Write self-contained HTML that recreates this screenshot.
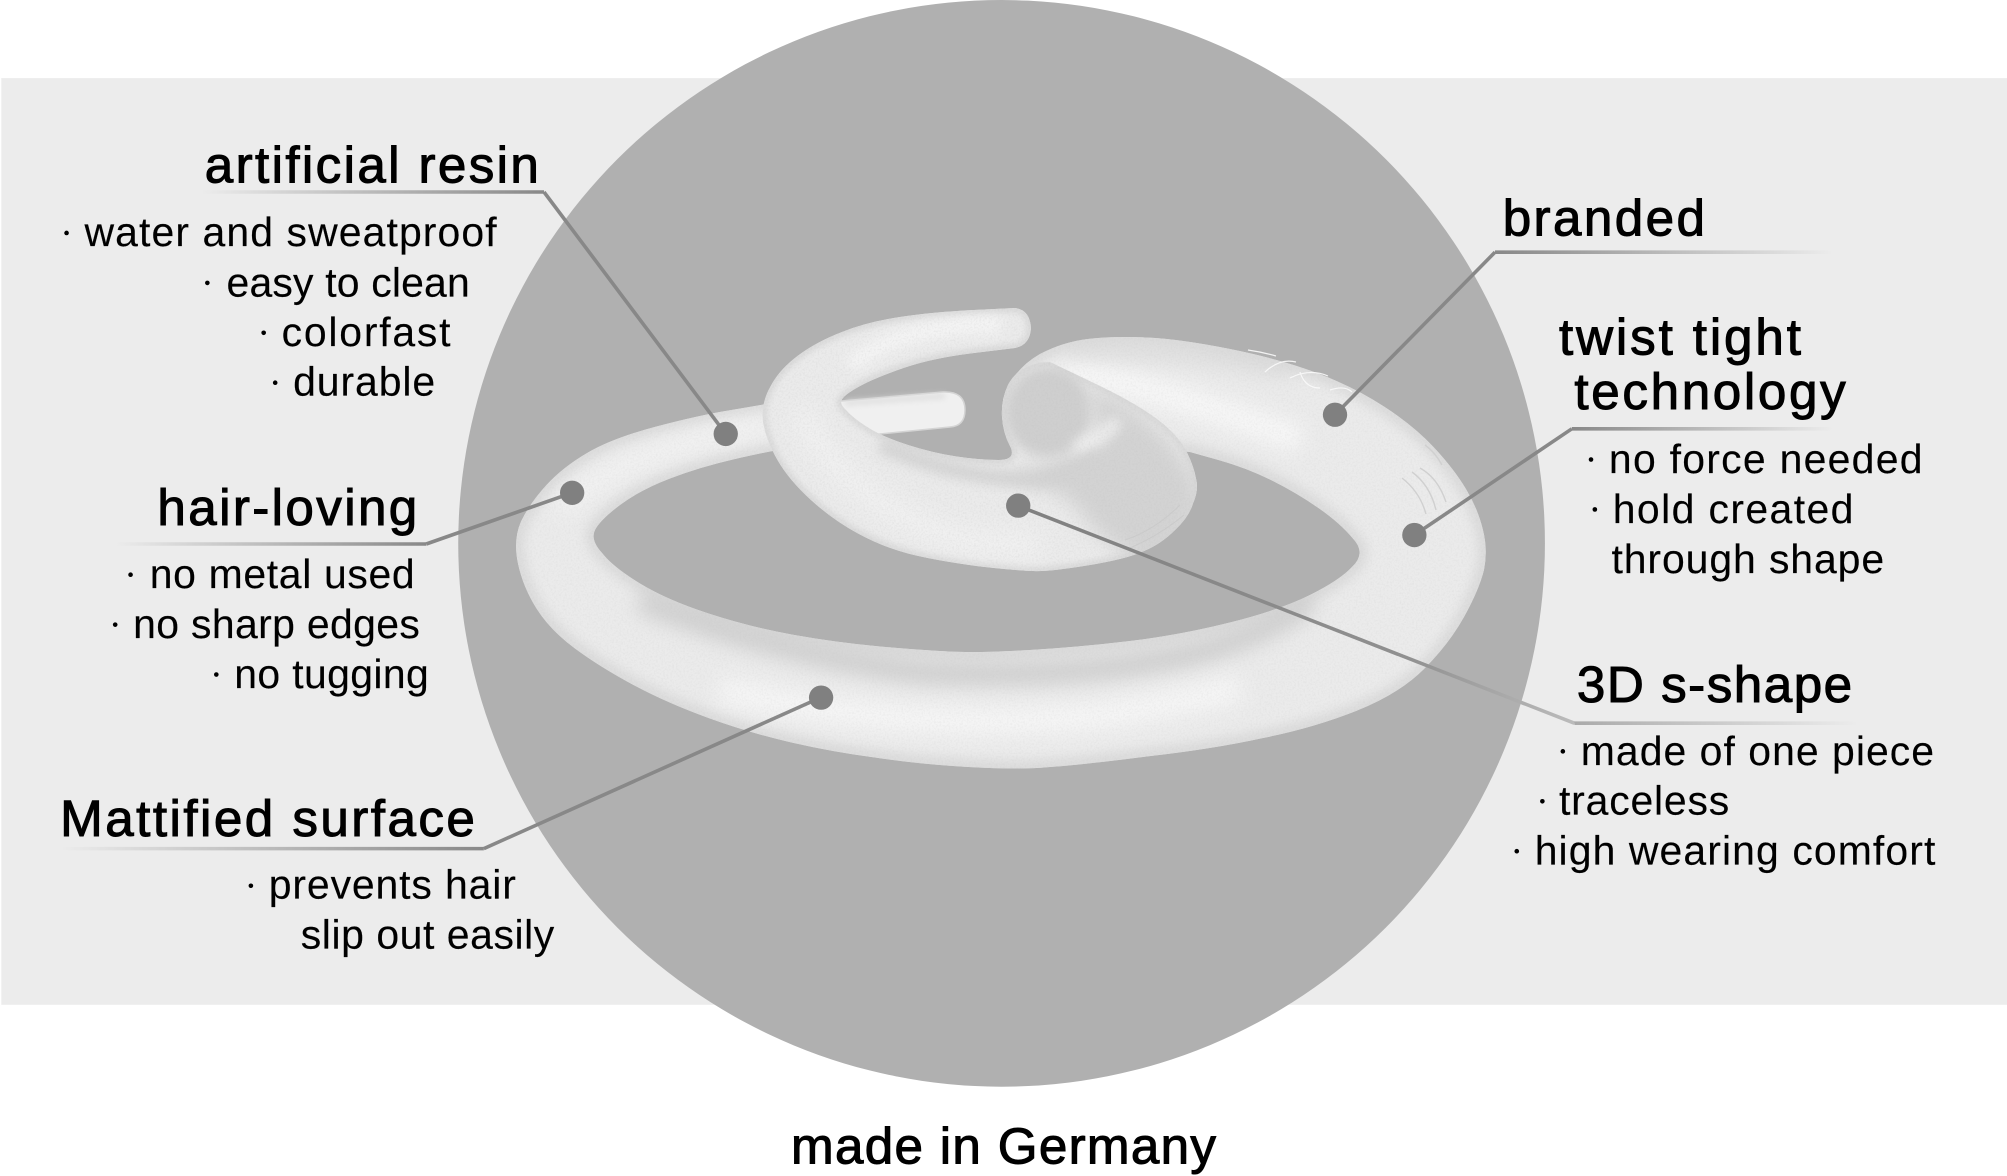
<!DOCTYPE html>
<html><head><meta charset="utf-8">
<style>
html,body{margin:0;padding:0;background:#fff}
svg{display:block}
text{font-family:"Liberation Sans",sans-serif;fill:#000}
.h{font-size:40px;stroke:#000;stroke-width:.8px}
.b{font-size:32px;stroke:#000;stroke-width:.1px}
</style></head><body>
<svg xmlns="http://www.w3.org/2000/svg" width="2007" height="1176" viewBox="0 0 1568 918.75">
<defs>
<path id="ringP" d="M790,400 L731.5,410 Q700,415 656.5,426.5 Q613,438 588,452.5 Q563,467 546.5,485 Q530,503 521,521.5 Q513,540 518,563.5 Q523,587 536.5,608.5 Q550,630 575,648.5 Q600,667 633.5,685 Q667,703 708.5,718 Q750,733 791.5,742.5 Q833,752 875,757.5 Q917,764 968.5,767 Q1020,770 1050,767 Q1080,765 1146.5,756.5 Q1213,749 1263,738 Q1313,728 1356,711 Q1399,694 1424,669 Q1449,644 1464,617 Q1479,590 1484,570 Q1488,550 1483,530 Q1478,509 1466,489 Q1454,469 1434,447.5 Q1414,426 1384,406.5 Q1354,387 1317,373 Q1280,359 1230,349 Q1180,339 1146.5,337.5 Q1113,336 1088,339 Q1063,342 1040,354 Q1012,370 1003,400 L1080,440 L1190,452 L1218.5,460 Q1247,468 1272,480.5 Q1297,493 1318.5,508 Q1340,523 1352.5,538 Q1367,553 1352,567 Q1340,580 1310,595 Q1280,610 1230,622.5 Q1180,635 1130,641 Q1080,647 1030,650 Q980,653 948.5,651.5 Q917,650 875,646 Q833,642 791.5,634.5 Q750,627 708.5,613.5 Q667,600 640,583.5 Q613,567 602.5,553.5 Q590,540 595,530 Q600,520 620,505 Q640,490 670,478.5 Q700,467 735,459 Q770,451 790,448 Z"/>
<path id="swP" d="M1015,308 L974,310 Q933,312 900,317 Q867,322 842,332 Q816,342 797.5,356 Q779,370 770.5,386.5 Q761,403 763,421.5 Q766,440 777.5,460 Q789,480 811,500 Q833,520 858,533.5 Q883,547 908,553.5 Q933,560 976.5,566 Q1020,571 1033.5,571 Q1047,572 1087,565.5 Q1127,559 1144,551 Q1161,544 1175,530 Q1189,517 1193,503.5 Q1199,490 1196,478.5 Q1194,467 1187.5,453.5 Q1181,440 1170,430 Q1160,420 1141.5,408.5 Q1123,397 1098,385 Q1073,373 1050,362 Q1020,362 1008,385 Q1001,400 1002,416.5 Q1003,433 1010,446 Q1017,460 998.5,460 Q980,460 956.5,456.5 Q933,453 908,445 Q883,437 868,427.5 Q853,418 846.5,410.5 Q838,403 843,398 Q847,393 862,385 Q877,377 905,367.5 Q933,358 974,353 L1015,348 Q1030,345 1031,328 Q1030,310 1015,308 Z"/>
<clipPath id="cr"><use href="#ringP"/></clipPath>
<clipPath id="cs"><use href="#swP"/></clipPath>
<filter id="b3" filterUnits="userSpaceOnUse" x="0" y="0" width="2007" height="1176"><feGaussianBlur stdDeviation="3"/></filter>
<filter id="b6" filterUnits="userSpaceOnUse" x="0" y="0" width="2007" height="1176"><feGaussianBlur stdDeviation="6"/></filter>
<filter id="b10" filterUnits="userSpaceOnUse" x="0" y="0" width="2007" height="1176"><feGaussianBlur stdDeviation="10"/></filter>
<filter id="noise" filterUnits="userSpaceOnUse" x="0" y="0" width="2007" height="1176"><feTurbulence type="fractalNoise" baseFrequency=".55" numOctaves="2" seed="4"/><feColorMatrix type="matrix" values="0 0 0 0 .5  0 0 0 0 .5  0 0 0 0 .5  1.6 0 0 0 -.7"/></filter>
<linearGradient id="g1" gradientUnits="userSpaceOnUse" x1="157" y1="0" x2="425" y2="0"><stop offset="0" stop-color="#888" stop-opacity="0"/><stop offset="1" stop-color="#888"/></linearGradient>
<linearGradient id="g2" gradientUnits="userSpaceOnUse" x1="1168" y1="0" x2="1432" y2="0"><stop offset="0" stop-color="#888"/><stop offset="1" stop-color="#888" stop-opacity="0"/></linearGradient>
<linearGradient id="g3" gradientUnits="userSpaceOnUse" x1="1228" y1="0" x2="1432" y2="0"><stop offset="0" stop-color="#888"/><stop offset="1" stop-color="#888" stop-opacity="0"/></linearGradient>
<linearGradient id="g4" gradientUnits="userSpaceOnUse" x1="1230" y1="0" x2="1452" y2="0"><stop offset="0" stop-color="#aaa"/><stop offset="1" stop-color="#aaa" stop-opacity="0"/></linearGradient>
<linearGradient id="g5" gradientUnits="userSpaceOnUse" x1="90" y1="0" x2="333" y2="0"><stop offset="0" stop-color="#888" stop-opacity="0"/><stop offset="1" stop-color="#888"/></linearGradient>
<linearGradient id="g6" gradientUnits="userSpaceOnUse" x1="47" y1="0" x2="378" y2="0"><stop offset="0" stop-color="#888" stop-opacity="0"/><stop offset="1" stop-color="#888"/></linearGradient>
<linearGradient id="g7" gradientUnits="userSpaceOnUse" x1="795" y1="395" x2="1230" y2="565"><stop offset="0" stop-color="#808080"/><stop offset=".7" stop-color="#909090"/><stop offset="1" stop-color="#bbb"/></linearGradient>
</defs>

<rect width="1568" height="918.75" fill="#fff"/>
<rect x="1" y="61" width="1567" height="724" fill="#ececec"/>
<circle cx="782.5" cy="424.5" r="424.5" fill="#b0b0b0"/>

<g transform="scale(.78125)">
<!-- small tail behind swirl -->
<path d="M830,402 L943,392 Q965,391 965,410 Q965,426 950,427 L870,435 Z" fill="#f0f0f0" stroke="#d4d4d4" stroke-width="1.5"/>
<path d="M845,403 L945,396" fill="none" stroke="#dedede" stroke-width="5" filter="url(#b3)"/>

<!-- main ring -->
<use href="#ringP" fill="#ebebeb"/>
<g clip-path="url(#cr)">
<use href="#ringP" fill="none" stroke="#d8d8d8" stroke-width="14" filter="url(#b6)"/>
<path d="M640,600 Q767,652 920,672 Q1080,680 1200,652 Q1270,632 1310,600" fill="none" stroke="#cdcdcd" stroke-width="22" filter="url(#b10)"/>
<path d="M720,690 Q820,712 900,718 Q1000,726 1100,716 Q1180,704 1240,688" fill="none" stroke="#f6f6f6" stroke-width="26" filter="url(#b10)"/>
<path d="M1060,368 Q1180,395 1300,440" fill="none" stroke="#f8f8f8" stroke-width="26" filter="url(#b10)"/>
<path d="M1060,350 Q1180,345 1290,372" fill="none" stroke="#d9d9d9" stroke-width="14" filter="url(#b10)"/>
<path d="M560,510 Q620,450 770,425" fill="none" stroke="#f3f3f3" stroke-width="18" filter="url(#b10)"/>
<rect x="500" y="320" width="1000" height="460" filter="url(#noise)" opacity=".22"/>
</g>
<!-- logo marks -->
<g fill="none" stroke="#fafafa" stroke-width="1.2" opacity=".9">
<path d="M1248,350 Q1262,352 1276,356 M1265,372 Q1280,358 1296,362 M1290,378 Q1310,368 1328,376 M1300,372 Q1305,388 1320,388 M1330,390 Q1345,385 1352,392"/>
</g>
<g fill="none" stroke="#d0d0d0" stroke-width="1.4">
<path d="M1420,468 Q1438,478 1446,502 M1412,472 Q1430,485 1436,510 M1402,478 Q1420,492 1426,514 M1425,445 Q1435,452 1442,465"/>
</g>

<!-- swirl -->
<use href="#swP" fill="#ebebeb"/>
<g clip-path="url(#cs)">
<use href="#swP" fill="none" stroke="#dadada" stroke-width="9" filter="url(#b3)"/>
<ellipse cx="1048" cy="412" rx="44" ry="46" fill="#cfcfcf" filter="url(#b6)"/>
<path d="M1000,472 Q1060,468 1100,440 L1085,385 L1120,400 Q1180,440 1200,490 Q1200,530 1150,565 Q1100,545 1075,505 Q1040,480 1000,472 Z" fill="#d3d3d3" filter="url(#b10)"/>
<path d="M1075,447 Q1100,442 1118,420" fill="none" stroke="#f0f0f0" stroke-width="12" filter="url(#b6)"/>
<path d="M880,445 Q960,480 1040,480 Q1075,472 1100,455" fill="none" stroke="#d2d2d2" stroke-width="14" filter="url(#b6)"/>
<path d="M1000,325 Q900,325 850,365" fill="none" stroke="#f5f5f5" stroke-width="16" filter="url(#b6)"/>
<path d="M800,410 Q840,500 960,540 Q1010,545 1040,545" fill="none" stroke="#f1f1f1" stroke-width="24" filter="url(#b10)"/>
<rect x="750" y="300" width="460" height="280" filter="url(#noise)" opacity=".3"/>
</g>
<g fill="none" stroke="#c8c8c8" stroke-width="1" opacity=".8"><path d="M1125,540 Q1155,530 1180,505 M1130,548 Q1160,535 1184,515"/></g>
</g>

<!-- connectors -->
<g fill="none" stroke-width="2.8">
<path d="M157,150 H425" stroke="url(#g1)"/>
<path d="M425,150 L567,339" stroke="#888"/>
<path d="M1168,197 H1432" stroke="url(#g2)"/>
<path d="M1168,197 L1043,324" stroke="#888"/>
<path d="M1228,335 H1432" stroke="url(#g3)"/>
<path d="M1228,335 L1105,418" stroke="#888"/>
<path d="M795,395 L1230,565" stroke="url(#g7)"/>
<path d="M1230,565 H1452" stroke="url(#g4)"/>
<path d="M90,425 H333" stroke="url(#g5)"/>
<path d="M333,425 L447,385" stroke="#888"/>
<path d="M47,663 H378" stroke="url(#g6)"/>
<path d="M378,663 L641,545" stroke="#888"/>
</g>
<g fill="#808080">
<circle cx="567" cy="339" r="9.5"/><circle cx="447" cy="385" r="9.5"/><circle cx="1043" cy="324" r="9.5"/>
<circle cx="1105" cy="418" r="9.5"/><circle cx="795.5" cy="395" r="9.5"/><circle cx="641.5" cy="545" r="9.5"/>
</g>

<!-- bullets -->
<g fill="#000">
<circle cx="52" cy="182" r="1.8"/><circle cx="162" cy="221" r="1.8"/><circle cx="206" cy="260" r="1.8"/><circle cx="215" cy="299" r="1.8"/>
<circle cx="102" cy="449" r="1.8"/><circle cx="90" cy="488" r="1.8"/><circle cx="169" cy="527" r="1.8"/>
<circle cx="196" cy="692" r="1.8"/>
<circle cx="1243" cy="359" r="1.8"/><circle cx="1246" cy="398" r="1.8"/>
<circle cx="1221" cy="587" r="1.8"/><circle cx="1205" cy="626" r="1.8"/><circle cx="1185" cy="665" r="1.8"/>
</g>

<!-- text -->
<text class="h" x="160" y="142.5" textLength="261" lengthAdjust="spacing">artificial resin</text>
<text class="b" x="66" y="192" textLength="322" lengthAdjust="spacing">water and sweatproof</text>
<text class="b" x="177" y="231.5" textLength="190" lengthAdjust="spacing">easy to clean</text>
<text class="b" x="220" y="270.5" textLength="132" lengthAdjust="spacing">colorfast</text>
<text class="b" x="229" y="309" textLength="111" lengthAdjust="spacing">durable</text>

<text class="h" x="123" y="410" textLength="203" lengthAdjust="spacing">hair-loving</text>
<text class="b" x="117" y="459.5" textLength="207" lengthAdjust="spacing">no metal used</text>
<text class="b" x="104" y="498.5" textLength="224" lengthAdjust="spacing">no sharp edges</text>
<text class="b" x="183" y="537.5" textLength="152" lengthAdjust="spacing">no tugging</text>

<text class="h" x="47" y="653" textLength="324" lengthAdjust="spacing">Mattified surface</text>
<text class="b" x="210" y="702" textLength="193" lengthAdjust="spacing">prevents hair</text>
<text class="b" x="235" y="741" textLength="198" lengthAdjust="spacing">slip out easily</text>

<text class="h" x="1174" y="184" textLength="158" lengthAdjust="spacing">branded</text>
<text class="h" x="1218" y="277" textLength="189" lengthAdjust="spacing">twist tight</text>
<text class="h" x="1230" y="319.5" textLength="212" lengthAdjust="spacing">technology</text>
<text class="b" x="1257" y="369.5" textLength="245" lengthAdjust="spacing">no force needed</text>
<text class="b" x="1260" y="408.5" textLength="188" lengthAdjust="spacing">hold created</text>
<text class="b" x="1259" y="447.5" textLength="213" lengthAdjust="spacing">through shape</text>

<text class="h" x="1232" y="548.5" textLength="215" lengthAdjust="spacing">3D s-shape</text>
<text class="b" x="1235" y="597.5" textLength="276" lengthAdjust="spacing">made of one piece</text>
<text class="b" x="1218" y="636.5" textLength="133" lengthAdjust="spacing">traceless</text>
<text class="b" x="1199" y="675.5" textLength="313" lengthAdjust="spacing">high wearing comfort</text>

<text class="h" x="618" y="909" textLength="332" lengthAdjust="spacing">made in Germany</text>
</svg>
</body></html>
